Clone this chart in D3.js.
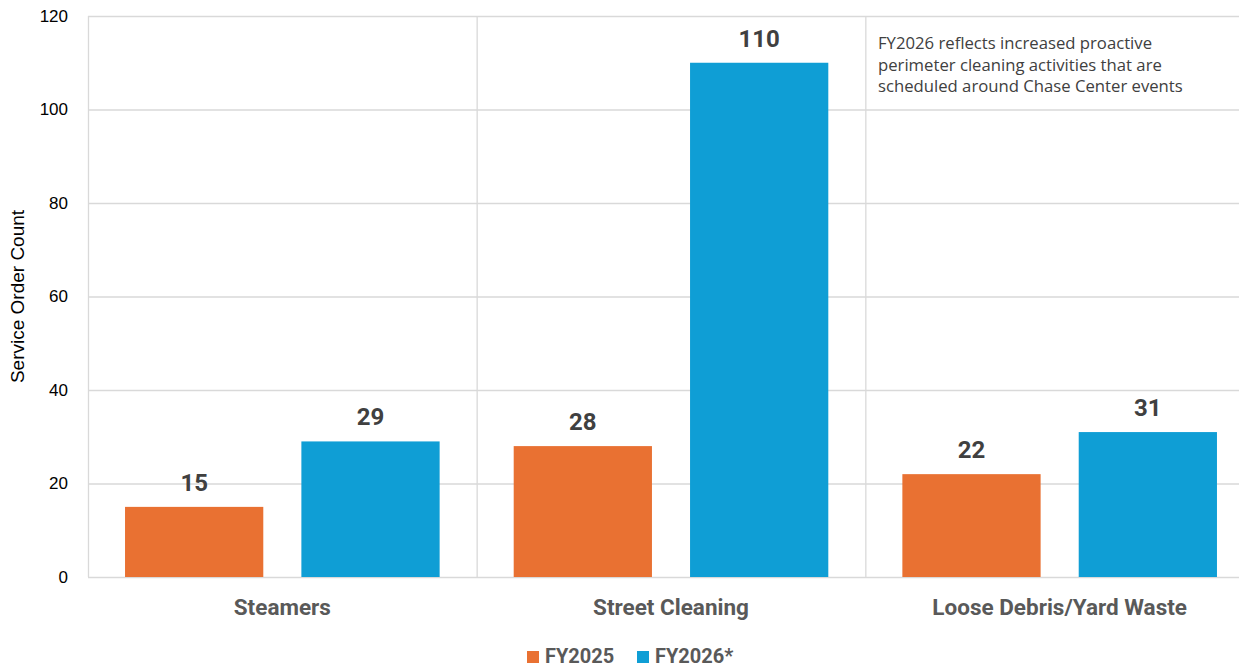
<!DOCTYPE html>
<html>
<head>
<meta charset="utf-8">
<script src="https://cdn.jsdelivr.net/npm/d3@7"></script>
<style>
  body { margin: 0; background: #fff; overflow: hidden; }
  svg { display: block; }
</style>
</head>
<body>
<svg id="chart"></svg>
<script>
// Data
const categories = ["Steamers", "Street Cleaning", "Loose Debris/Yard Waste"];
const seriesNames = ["FY2025", "FY2026*"];
const fy2025 = [15, 28, 22];
const fy2026 = [29, 110, 31];
const yTicks = [0, 20, 40, 60, 80, 100, 120];
const note = ["FY2026 reflects increased proactive",
              "perimeter cleaning activities that are",
              "scheduled around Chase Center events"];

const width = 1239;
const height = 667;
const colors = ["#E97132", "#0F9ED5"];

const margin = { left: 88, top: 16, bottom: 90 };
const plotRight = 1254; // the plot runs a little past the picture edge

const svg = d3.select("#chart")
    .attr("width", width)
    .attr("height", height);

const x = d3.scaleBand()
    .domain(categories)
    .range([margin.left, plotRight]);

const y = d3.scaleLinear()
    .domain([0, 120])
    .range([height - margin.bottom, margin.top]);

// inner band for the two bars
const xInner = d3.scaleBand()
    .domain(seriesNames)
    .range([0, x.bandwidth()])
    .paddingInner(0.216)
    .paddingOuter(0.21);

// Gridlines
svg.append("g")
    .selectAll("line")
    .data(yTicks)
    .join("line")
    .attr("x1", margin.left)
    .attr("x2", plotRight)
    .attr("y1", d => y(d) + 0.5)
    .attr("y2", d => y(d) + 0.5)
    .attr("stroke", "#d9d9d9")
    .attr("stroke-width", 1.3);

// Vertical separators between categories
svg.append("g")
    .selectAll("line")
    .data(categories)
    .join("line")
    .attr("x1", d => x(d) + 0.5)
    .attr("x2", d => x(d) + 0.5)
    .attr("y1", y(120))
    .attr("y2", y(0))
    .attr("stroke", "#d9d9d9")
    .attr("stroke-width", 1.3);

// Y axis labels
svg.append("g")
    .selectAll("text")
    .data(yTicks)
    .join("text")
    .attr("x", 68)
    .attr("y", d => y(d))
    .attr("dy", "0.35em")
    .attr("text-anchor", "end")
    .style("font-family", "'Liberation Sans', Arial, sans-serif")
    .style("font-size", "17px")
    .style("fill", "#000")
    .text(d => d);

// Y axis title
svg.append("text")
    .attr("transform", `translate(24,${(y(0) + y(120)) / 2}) rotate(-90)`)
    .attr("text-anchor", "middle")
    .style("font-family", "'Liberation Sans', Arial, sans-serif")
    .style("font-size", "19px")
    .style("fill", "#000")
    .text("Service Order Count");

// Bars
const rows = categories.map((c, i) => ({ cat: c, values: [fy2025[i], fy2026[i]] }));

const groups = svg.append("g")
    .selectAll("g")
    .data(rows)
    .join("g")
    .attr("transform", d => `translate(${x(d.cat)},0)`);

groups.selectAll("rect")
    .data(d => d.values.map((v, j) => ({ name: seriesNames[j], v, j })))
    .join("rect")
    .attr("x", d => xInner(d.name))
    .attr("width", xInner.bandwidth())
    .attr("y", d => y(d.v))
    .attr("height", d => y(0) - y(d.v))
    .attr("fill", d => colors[d.j]);

groups.selectAll("text.val")
    .data(d => d.values.map((v, j) => ({ name: seriesNames[j], v, j })))
    .join("text")
    .attr("class", "val")
    .attr("x", d => xInner(d.name) + xInner.bandwidth() / 2)
    .attr("y", d => y(d.v) - 16)
    .attr("text-anchor", "middle")
    .style("font-family", "Roboto, sans-serif")
    .style("font-weight", "bold")
    .style("font-size", "24px")
    .style("fill", "#404040")
    .text(d => d.v);

// Category labels
svg.append("g")
    .selectAll("text")
    .data(categories)
    .join("text")
    .attr("x", d => x(d) + x.bandwidth() / 2)
    .attr("y", y(0) + 38)
    .attr("text-anchor", "middle")
    .style("font-family", "Roboto, sans-serif")
    .style("font-weight", "bold")
    .style("font-size", "22.5px")
    .style("fill", "#595959")
    .text(d => d);

// Annotation
svg.append("text")
    .attr("x", 878)
    .attr("y", 49)
    .style("font-family", "'Open Sans', sans-serif")
    .style("font-size", "16.7px")
    .style("fill", "#404040")
    .selectAll("tspan")
    .data(note)
    .join("tspan")
    .attr("x", 878)
    .attr("dy", (d, i) => i === 0 ? 0 : 21.5)
    .text(d => d);

// Legend
const legendX = [527, 637];
const legend = svg.append("g")
    .selectAll("g")
    .data(seriesNames)
    .join("g")
    .attr("transform", (d, i) => `translate(${legendX[i]},651)`);

legend.append("rect")
    .attr("width", 12)
    .attr("height", 12)
    .attr("fill", (d, i) => colors[i]);

legend.append("text")
    .attr("x", 18)
    .attr("y", 12)
    .style("font-family", "Roboto, sans-serif")
    .style("font-weight", "bold")
    .style("font-size", "20px")
    .style("fill", "#595959")
    .text(d => d);
</script>
</body>
</html>
